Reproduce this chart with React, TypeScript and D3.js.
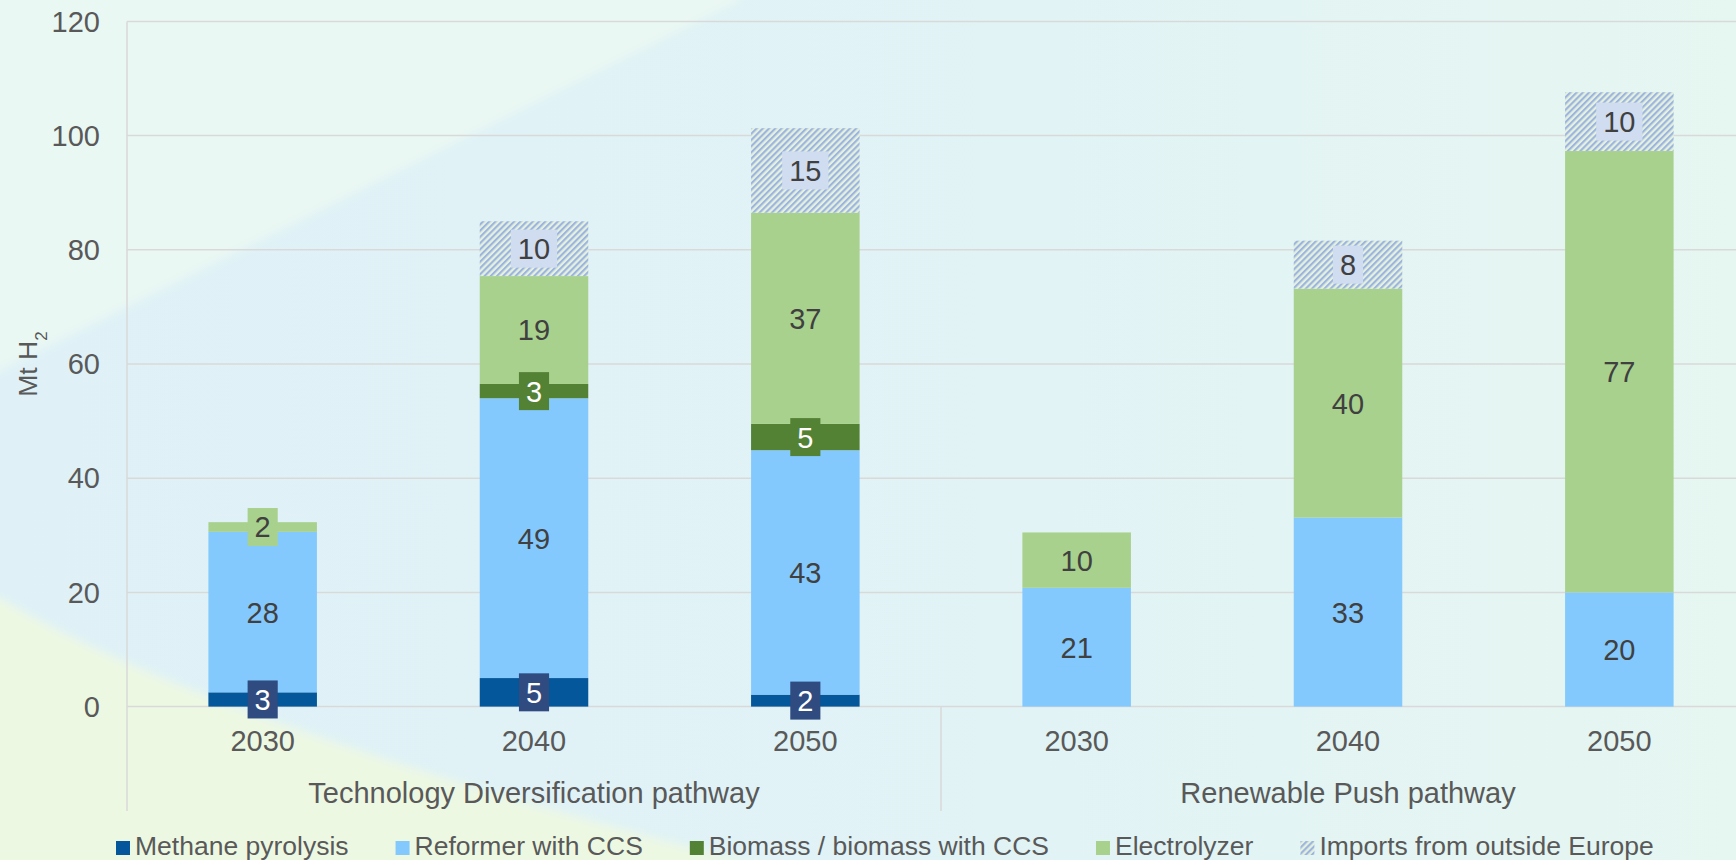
import React, { useMemo } from 'react';
import * as d3 from 'd3';

// ---------- data ----------
const categories = ['TD-2030', 'TD-2040', 'TD-2050', 'RP-2030', 'RP-2040', 'RP-2050'];
const yearLabels = ['2030', '2040', '2050', '2030', '2040', '2050'];
const groupNames = ['Technology Diversification pathway', 'Renewable Push pathway'];
const groupSizes = [3, 3];
const seriesNames = ['Methane pyrolysis', 'Reformer with CCS', 'Biomass / biomass with CCS', 'Electrolyzer', 'Imports from outside Europe'];
const methane = [2.5, 5.0, 2.1, 0, 0, 0];
const reformer = [28.1, 49.0, 42.8, 20.8, 33.1, 20.0];
const biomass = [0, 2.5, 4.6, 0, 0, 0];
const electrolyzer = [1.7, 18.9, 37.0, 9.7, 40.1, 77.3];
const imports = [0, 9.6, 14.8, 0, 8.4, 10.3];
const yTicks = [0, 20, 40, 60, 80, 100, 120];

// ---------- styles ----------
const W = 1736;
const H = 860;
const FONT = '"Liberation Sans", Arial, sans-serif';
const seriesFill = ['#03579A', '#84C9FD', '#548235', '#A9D18E', 'url(#hatch)'];
const labelBoxFill = ['#2F4B80', '#84C9FD', '#548235', '#A9D18E', '#D0DCF0'];
const labelTextFill = ['#FFFFFF', '#404040', '#FFFFFF', '#404040', '#404040'];
const LEGEND_FONT = 26.5;
const LEGEND_START = 116;
const LEGEND_SWATCH = 14;
const LEGEND_TEXT_GAP = 5;
const LEGEND_ITEM_GAP = 47;

function measure(text: string, size: number): number {
  try {
    const c = document.createElement('canvas').getContext('2d');
    if (c) {
      c.font = `${size}px "Liberation Sans", Arial, sans-serif`;
      return c.measureText(text).width;
    }
  } catch (e) {}
  return text.length * size * 0.5;
}

export default function App() {
  const margin = { left: 127, top: 21.4, right: 1755, bottom: 706.6 };
  const x = d3.scaleBand<string>().domain(categories).range([margin.left, margin.right]).paddingInner(0.6).paddingOuter(0.3);
  const y = d3.scaleLinear().domain([0, 120]).range([margin.bottom, margin.top]);

  const seriesArrays = [methane, reformer, biomass, electrolyzer, imports];
  const rows = categories.map((c, i) => {
    const r: any = { cat: c };
    seriesNames.forEach((s, k) => (r[s] = seriesArrays[k][i]));
    return r;
  });
  const stacked = d3.stack<any>().keys(seriesNames)(rows);

  const legendPos = useMemo(() => {
    let cur = LEGEND_START;
    return seriesNames.map((s) => {
      const p = cur;
      cur += LEGEND_SWATCH + LEGEND_TEXT_GAP + measure(s, LEGEND_FONT) + LEGEND_ITEM_GAP;
      return p;
    });
  }, []);

  const labelFont = 29;
  const bw = x.bandwidth();

  let acc = 0;
  const groupBounds = groupSizes.map((n) => {
    const start = acc;
    acc += n;
    const x0 = start === 0 ? margin.left : (x(categories[start - 1])! + bw + x(categories[start])!) / 2;
    const x1 = acc >= categories.length ? margin.right : (x(categories[acc - 1])! + bw + x(categories[acc])!) / 2;
    return { x0, x1 };
  });

  const axisBottom = 811;

  return (
    <svg width={W} height={H} style={{ position: 'absolute', left: 0, top: 0, fontFamily: FONT }}>
      <defs>
        <linearGradient id="bgGrad" x1="0" y1="0" x2="1" y2="0">
          <stop offset="0" stopColor="#DFF1F7" />
          <stop offset="0.6" stopColor="#E1F3F5" />
          <stop offset="1" stopColor="#E6F6F1" />
        </linearGradient>
        <filter id="soft" x="-20%" y="-20%" width="140%" height="140%">
          <feGaussianBlur stdDeviation="5" />
        </filter>
        <pattern id="hatch" width="4.4" height="10" patternUnits="userSpaceOnUse" patternTransform="rotate(45)">
          <rect width="4.4" height="10" fill="#E5F1DC" />
          <rect width="2.1" height="10" fill="#9BB4E2" />
        </pattern>
        <clipPath id="clipAll">
          <rect x={0} y={0} width={W} height={H} />
        </clipPath>
      </defs>

      {/* background */}
      <g clipPath="url(#clipAll)">
        <rect x={0} y={0} width={W} height={H} fill="url(#bgGrad)" />
        <path d="M-40,-40 L750,-40 L740,0 L0,370 L-40,390 Z" fill="#EAF8F3" filter="url(#soft)" />
        <path d="M-40,590 L0,598 C150,690 450,790 800,875 L-40,900 Z" fill="#EDF8E3" filter="url(#soft)" />
      </g>

      {/* gridlines */}
      {yTicks.map((t) => (
        <line key={t} x1={margin.left} x2={W} y1={y(t)} y2={y(t)} stroke="#D9D9D9" strokeWidth={1.5} />
      ))}
      <line x1={margin.left} x2={margin.left} y1={margin.top} y2={axisBottom} stroke="#D9D9D9" strokeWidth={1.5} />
      {groupBounds.slice(1).map((g, i) => (
        <line key={i} x1={g.x0} x2={g.x0} y1={y(0)} y2={axisBottom} stroke="#D9D9D9" strokeWidth={1.5} />
      ))}

      {/* y ticks */}
      {yTicks.map((t) => (
        <text key={t} x={100} y={y(t)} dy="0.35em" textAnchor="end" fontSize={29} fill="#595959">
          {t}
        </text>
      ))}
      <text transform={`translate(37,${(margin.top + margin.bottom) / 2}) rotate(-90)`} textAnchor="middle" fontSize={26.5} fill="#595959">
        Mt H<tspan fontSize={17} baselineShift="sub">2</tspan>
      </text>

      {/* bars */}
      {stacked.map((s, k) => (
        <g key={s.key} fill={seriesFill[k]}>
          {s.map((d, i) =>
            d[1] - d[0] > 0 ? (
              <rect key={i} x={x(categories[i])} width={bw} y={y(d[1])} height={y(d[0]) - y(d[1])} />
            ) : null
          )}
        </g>
      ))}

      {/* data labels */}
      {stacked.map((s, k) => (
        <g key={s.key}>
          {s.map((d, i) => {
            const v = d[1] - d[0];
            if (v <= 0) return null;
            const label = String(Math.round(v));
            const cx = x(categories[i])! + bw / 2;
            const cy = y((d[0] + d[1]) / 2);
            const tw = label.length * 0.556 * labelFont;
            const boxW = tw + 14;
            const boxH = 38;
            return (
              <g key={i}>
                <rect x={cx - boxW / 2} y={cy - boxH / 2} width={boxW} height={boxH} fill={labelBoxFill[k]} />
                <text x={cx} y={cy} dy="0.36em" textAnchor="middle" fontSize={labelFont} fill={labelTextFill[k]}>
                  {label}
                </text>
              </g>
            );
          })}
        </g>
      ))}

      {/* category labels */}
      {categories.map((c, i) => (
        <text key={c} x={x(c)! + bw / 2} y={751} textAnchor="middle" fontSize={29} fill="#595959">
          {yearLabels[i]}
        </text>
      ))}
      {groupNames.map((g, i) => (
        <text key={g} x={(groupBounds[i].x0 + groupBounds[i].x1) / 2} y={803} textAnchor="middle" fontSize={29} fill="#595959">
          {g}
        </text>
      ))}

      {/* legend */}
      {seriesNames.map((s, k) => (
        <g key={s} transform={`translate(${legendPos[k]},0)`}>
          <rect x={0} y={841} width={LEGEND_SWATCH} height={LEGEND_SWATCH} fill={seriesFill[k]} />
          <text x={LEGEND_SWATCH + LEGEND_TEXT_GAP} y={855} fontSize={LEGEND_FONT} fill="#595959">
            {s}
          </text>
        </g>
      ))}
    </svg>
  );
}
